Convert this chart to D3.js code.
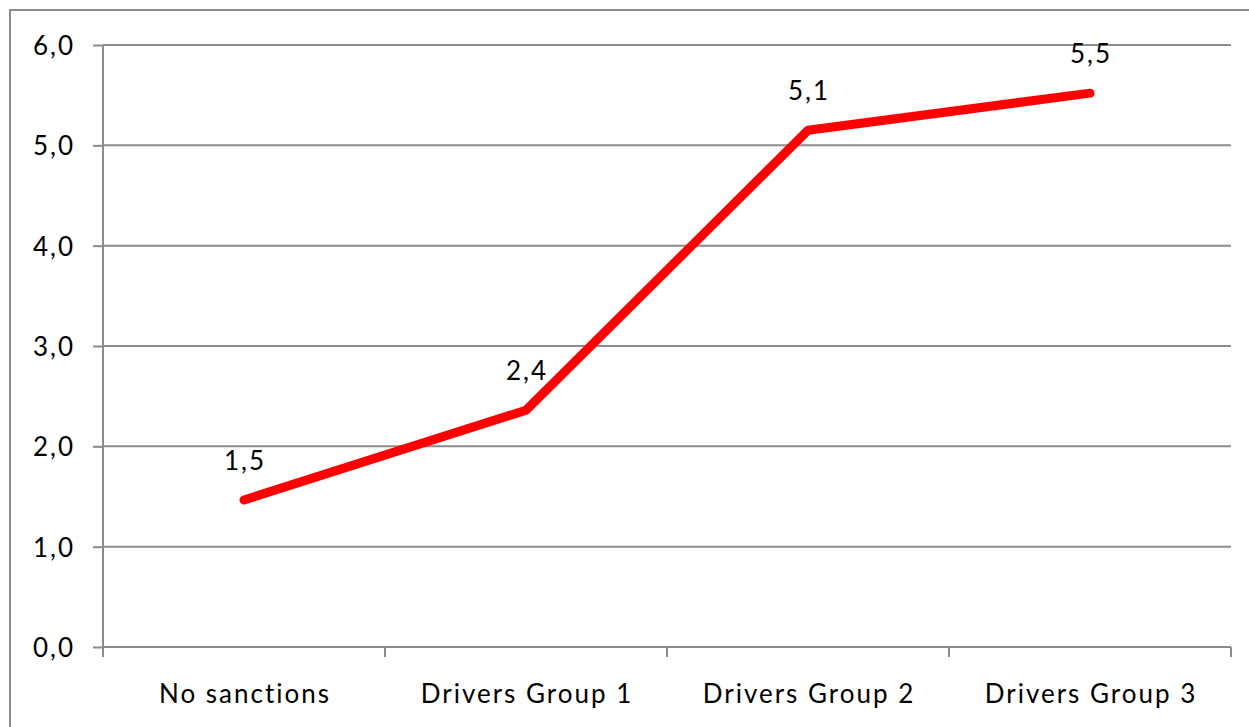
<!DOCTYPE html>
<html>
<head>
<meta charset="utf-8">
<script src="https://cdn.jsdelivr.net/npm/d3@7"></script>
<style>
  body { margin: 0; background: #fff; }
  text { font-family: Lato, "Open Sans", sans-serif; fill: #000; letter-spacing: 2px; }
</style>
</head>
<body>
<div id="chart"></div>
<script>
// data
const categories = ["No sanctions", "Drivers Group 1", "Drivers Group 2", "Drivers Group 3"]
const values = [1.465, 2.36, 5.15, 5.52]
const valueLabels = ["1,5", "2,4", "5,1", "5,5"]
const yTicks = [0, 1, 2, 3, 4, 5, 6]

const width = 1249
const height = 727
const margin = { top: 45, right: 18, bottom: 80, left: 103 }

const svg = d3.select("#chart")
  .append("svg")
  .attr("width", width)
  .attr("height", height)

// outer chart border
svg.append("rect")
  .attr("x", 10)
  .attr("y", 10)
  .attr("width", width + 20)
  .attr("height", height + 20)
  .attr("fill", "none")
  .attr("stroke", "#8c8c8c")
  .attr("stroke-width", 2)

const xScale = d3.scaleBand()
  .domain(categories)
  .range([margin.left, width - margin.right])

const yScale = d3.scaleLinear()
  .domain([0, 6])
  .range([height - margin.bottom, margin.top])

const fmt = d => d3.format(".1f")(d).replace(".", ",")

// gridlines
svg.append("g")
  .selectAll("line")
  .data(yTicks.filter(t => t > 0))
  .enter()
  .append("line")
  .attr("x1", margin.left)
  .attr("x2", width - margin.right)
  .attr("y1", d => yScale(d))
  .attr("y2", d => yScale(d))
  .attr("stroke", "#8c8c8c")
  .attr("stroke-width", 2)

// y axis
const yAxis = svg.append("g")
  .attr("transform", "translate(" + margin.left + ",0)")
  .call(d3.axisLeft(yScale).tickValues(yTicks).tickFormat(fmt).tickSize(10).tickPadding(18))
yAxis.selectAll("line, path").attr("stroke", "#8c8c8c").attr("stroke-width", 2)
yAxis.select(".domain").attr("d", "M0," + yScale(6) + "V" + yScale(0))
yAxis.selectAll("text").style("font-size", "26px").attr("fill", "#000").attr("dy", "0.36em")

// x axis
const xTickPos = categories.map(c => xScale(c)).concat([width - margin.right])
const xAxis = svg.append("g")
  .attr("transform", "translate(0," + yScale(0) + ")")
xAxis.append("line")
  .attr("x1", margin.left)
  .attr("x2", width - margin.right)
  .attr("stroke", "#8c8c8c")
  .attr("stroke-width", 2)
xAxis.selectAll(".tk")
  .data(xTickPos)
  .enter()
  .append("line")
  .attr("class", "tk")
  .attr("x1", d => d)
  .attr("x2", d => d)
  .attr("y1", 0)
  .attr("y2", 10)
  .attr("stroke", "#8c8c8c")
  .attr("stroke-width", 2)
xAxis.selectAll(".lbl")
  .data(categories)
  .enter()
  .append("text")
  .attr("class", "lbl")
  .attr("x", d => xScale(d) + xScale.bandwidth() / 2 + 1)
  .attr("y", 56)
  .attr("text-anchor", "middle")
  .style("font-size", "26px")
  .text(d => d)

// line
const line = d3.line()
  .x((d, i) => xScale(categories[i]) + xScale.bandwidth() / 2)
  .y(d => yScale(d))

svg.append("path")
  .datum(values)
  .attr("d", line)
  .attr("fill", "none")
  .attr("stroke", "#ff0000")
  .attr("stroke-width", 9)
  .attr("stroke-linecap", "round")
  .attr("stroke-linejoin", "round")

// data labels
svg.selectAll(".val")
  .data(values)
  .enter()
  .append("text")
  .attr("class", "val")
  .attr("x", (d, i) => xScale(categories[i]) + xScale.bandwidth() / 2 + 1)
  .attr("y", d => yScale(d) - 30)
  .attr("text-anchor", "middle")
  .style("font-size", "26px")
  .text((d, i) => valueLabels[i])
</script>
</body>
</html>
